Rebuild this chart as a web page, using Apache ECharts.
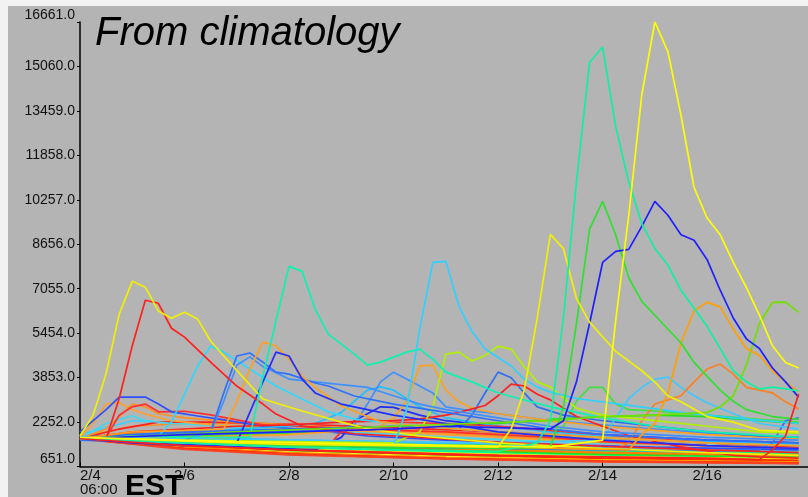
<!DOCTYPE html>
<html>
<head>
<meta charset="utf-8">
<script src="https://cdn.jsdelivr.net/npm/echarts@6/dist/echarts.min.js"></script>
<style>
html, body { margin: 0; padding: 0; background: #f2f2f2; }
#chart { width: 808px; height: 497px; }
</style>
</head>
<body>
<div id="chart"></div>
<script>
// Streamflow ensemble traces, x = days after 2/4 06:00 EST, y = flow
const yMin = 651.0, yMax = 16661.0, yStep = 1601.0;
const dateTicks = ['2/4', '2/6', '2/8', '2/10', '2/12', '2/14', '2/16'];
const startTime = '06:00';
const tzLabel = 'EST';
const titleText = 'From climatology';

// low, slowly receding members
const bandRedA    = [[0,1650],[2,1380],[4,1180],[7,1000],[10,880],[13.75,800]];
const bandRedB    = [[0,1650],[2,1420],[4,1250],[7,1080],[10,950],[13.75,860]];
const bandRedC    = [[0,1650],[2,1300],[4,1100],[7,940],[10,840],[13.75,770]];
const bandRedD    = [[0,1650],[2,1280],[4,1080],[7,930],[10,830],[13.75,760]];
const bandOrangeA = [[0,1650],[2,1340],[4,1130],[7,960],[10,850],[13.75,780]];
const bandOrangeB = [[0,1650],[2,1450],[4,1300],[7,1150],[10,1020],[13.75,920]];
const bandOrangeC = [[0,1650],[2,1320],[4,1120],[7,970],[10,870],[13.75,800]];
const bandOrangeD = [[0,1650],[1,1850],[1.5,1820],[2,1700],[4,1500],[7,1300],[10,1150],[13.75,1050]];
const bandYellowA = [[0,1650],[2,1500],[4,1350],[7,1180],[10,1050],[13.75,950]];
const bandYellowB = [[0,1650],[2,1360],[4,1160],[7,1000],[10,900],[13.75,840]];
const bandYellowC = [[0,1650],[2,1430],[4,1280],[7,1100],[10,980],[13.75,900]];
const bandLimeA   = [[0,1650],[2,1550],[4,1400],[7,1250],[10,1100],[13.75,1000]];
const bandGreenA  = [[0,1650],[2,1600],[4,1480],[7,1320],[10,1180],[13.75,1080]];
const bandGreenB  = [[0,1650],[2,1400],[4,1220],[7,1050],[10,930],[13.75,850]];
const bandGreenC  = [[0,1650],[1,1750],[2,1750],[4,1450],[7,1250],[10,1100],[13.75,1000]];
const bandSpringA = [[0,1650],[2,1480],[4,1330],[7,1200],[10,1080],[13.75,1000]];
const bandSpringB = [[0,1700],[2,1580],[4,1500],[7,1380],[10,1250],[13.75,1150]];
const bandCyanA   = [[0,1650],[2,1530],[4,1420],[7,1300],[10,1150],[13.75,1050]];
const bandCyanB   = [[0,1750],[2,1700],[4,1600],[7,1480],[10,1350],[13.75,1250]];
const bandBlueA   = [[0,1650],[2,1560],[4,1450],[7,1280],[10,1130],[13.75,1030]];

// middle members
const midRedA    = [[0,1650],[0.75,2000],[1.5,2250],[2.5,2250],[3.5,2200],[4.5,2150],[6,2050],[8,1900],[10,1700],[12,1500],[13.75,1400]];
const midRedB    = [[0,1650],[0.5,1700],[0.75,2500],[1,2800],[1.25,2900],[1.5,2620],[2,2640],[2.5,2510],[3,2330],[3.5,2150],[4,2100],[4.5,2080],[5.25,2000],[6,1950],[7,1900],[8,1800],[9,1700],[10,1550],[12,1400],[13.75,1300]];
const midRedC    = [[0,1650],[2,1500],[4,1350],[4.5,1300],[4.75,1400],[5,1900],[5.25,2300],[5.5,2350],[6,2250],[7,2200],[8,2100],[9,1950],[10,1800],[11,1650],[12,1500],[13.75,1350]];
const midOrangeA = [[0,1700],[0.25,2200],[0.5,2900],[0.75,2950],[1,2700],[1.25,2540],[1.75,2300],[2.5,2150],[3.5,2050],[5,1950],[7,1800],[9,1600],[11,1450],[13.75,1300]];
const midOrangeB = [[0,1650],[0.5,2000],[1,2900],[1.25,2800],[1.5,2550],[2,2400],[3,2250],[4,2150],[5,2050],[6,1950],[8,1750],[10,1550],[12,1400],[13.75,1300]];
const midOrangeC = [[0,1700],[1,2100],[2,2200],[3,2200],[4,2100],[5.5,2000],[7,1900],[9,1750],[11,1600],[13.75,1500]];
const midCyanA   = [[0,1650],[0.5,2200],[1,2480],[1.25,2300],[1.75,2200],[2.5,2150],[3.5,2050],[4.5,1950],[5.5,1850],[7,1700],[9,1550],[11,1450],[13.75,1350]];
const midCyanB   = [[0,1800],[1,2300],[2,2200],[3,2050],[4,1950],[6,1850],[8,1750],[10,1650],[12,1550],[13.75,1500]];
const midCyanC   = [[0,1700],[2,1900],[3,2000],[4,2100],[4.5,2200],[5,2600],[5.5,3400],[5.75,3520],[6,3400],[6.5,2800],[7,2400],[8,2100],[9,1900],[10,1750],[12,1550],[13.75,1450]];
const midBlueA   = [[0,1900],[0.5,2700],[0.75,3150],[1.25,3150],[1.5,2900],[1.75,2620],[2.25,2470],[2.75,2330],[3.5,2100],[4.5,1950],[5.5,1750],[7,1600],[9,1450],[11,1350],[13.75,1250]];
const midBlueB   = [[0,1650],[2,1450],[4,1300],[4.5,1250],[5,1700],[5.25,2300],[5.75,2800],[6,2780],[6.5,2500],[7,2300],[8,2100],[9,1950],[10,1800],[12,1600],[13.75,1500]];
const midBlueC   = [[0,1600],[4,1400],[8,1300],[10,1250],[12,1200],[13,1250],[13.25,1500],[13.5,2300],[13.75,2400]];
const midGreenA  = [[0,1650],[3,1800],[6,2000],[8,2200],[9,2350],[10,2450],[11,2500],[12,2450],[13,2300],[13.75,2200]];
const midGreenB  = [[0,1650],[4,1500],[8,1400],[9,1600],[9.25,2100],[9.5,3000],[9.75,3500],[10,3500],[10.25,2900],[10.5,2700],[11,2650],[12,2500],[13,2350],[13.75,2250]];

// storm-driven members
const yellowEarly = [[0,1750],[0.25,2500],[0.5,4000],[0.75,6140],[1,7320],[1.25,7110],[1.5,6250],[1.75,5990],[2,6210],[2.25,5960],[2.5,5170],[2.75,4630],[3.5,3080],[4.25,2650],[5,2250],[5.5,2010],[6.5,1750],[8,1500],[10,1300],[12,1150],[13.75,1050]];
const redEarly    = [[0,1650],[0.5,1650],[0.75,3100],[1,5000],[1.25,6640],[1.5,6530],[1.75,5630],[2,5310],[2.5,4410],[3,3550],[3.5,2900],[3.75,2540],[4.25,2110],[5.25,1830],[6.5,1700],[8,1520],[10,1380],[12,1250],[13.75,1150]];
const cyanFeb6    = [[0,1650],[1,1700],[1.5,1750],[1.75,2250],[2.25,4270],[2.5,4990],[2.75,4770],[3.25,4160],[3.75,3550],[4.25,3080],[4.75,2620],[5.25,2360],[6.5,2100],[8,1900],[10,1700],[12,1500],[13.75,1400]];
const blueFeb7A   = [[0,1650],[1.5,1800],[2.5,1900],[2.75,3300],[3,4630],[3.25,4740],[3.5,4410],[3.75,4050],[4,3980],[4.5,3660],[4.75,3550],[5.25,3190],[6,2900],[7,2600],[8,2300],[9,2000],[10,1800],[12,1600],[13.75,1500]];
const blueFeb7B   = [[0,1700],[2,1600],[2.5,1900],[2.75,3000],[3,4300],[3.25,4600],[3.5,4250],[4,3800],[4.5,3700],[5,3600],[5.5,3500],[6,3200],[6.5,2900],[7,2700],[8,2400],[9,2100],[10,1900],[12,1700],[13.75,1600]];
const orangeFeb8  = [[0,1650],[1,1900],[2,1950],[2.75,2000],[3,2975],[3.25,4160],[3.5,5130],[3.75,4990],[4,4520],[4.25,3910],[4.5,3500],[5,2830],[5.75,2260],[6.5,2100],[8,1900],[10,1700],[12,1500],[13.75,1400]];
const blueFeb8    = [[0,1650],[1,1500],[2,1400],[3,1500],[3.25,2600],[3.5,3700],[3.75,4770],[4,4630],[4.25,3800],[4.5,3300],[5,2900],[6,2500],[7,2200],[8,1900],[10,1600],[12,1400],[13.75,1300]];
const tealFeb8    = [[0,1650],[1,1750],[2,1700],[3.25,1700],[3.5,3900],[3.75,5900],[4,7860],[4.25,7680],[4.5,6320],[4.75,5420],[5.25,4700],[5.5,4300],[5.75,4410],[6.25,4770],[6.5,4880],[6.75,4520],[7,4050],[7.5,3700],[8,3300],[9,2800],[10,2400],[11,2100],[12,1900],[13.75,1700]];
const blueFeb10   = [[0,1700],[2,1800],[4,1900],[5,2000],[5.25,2150],[5.5,2900],[5.75,3700],[6,4050],[6.25,3800],[6.5,3550],[6.75,3300],[7,2800],[7.5,2650],[8,2550],[9,2300],[10,2150],[11,2000],[12,1850],[13.75,1700]];
const orangeFeb10 = [[0,1650],[2,1700],[4,1800],[5.5,2000],[5.75,2100],[6,2400],[6.25,3000],[6.5,4270],[6.75,4300],[7,3400],[7.25,2980],[7.5,2750],[8,2550],[9,2300],[10,2100],[11,1950],[12,1800],[13.75,1650]];
const cyanFeb11   = [[0,1650],[2,1500],[4,1350],[6,1400],[6.25,2700],[6.5,5600],[6.75,8000],[7,8040],[7.25,6420],[7.5,5520],[7.75,4880],[8.25,4270],[8.5,3800],[8.75,3510],[9,3330],[9.5,3100],[10.5,2850],[11.5,2600],[12.5,2400],[13.75,2200]];
const limeFeb11   = [[0,1650],[2,1600],[4,1550],[6,1500],[6.5,1900],[6.75,2800],[7,4700],[7.25,4770],[7.5,4450],[7.75,4650],[8,4980],[8.25,4880],[8.5,4250],[8.75,3700],[9,3510],[9.5,2750],[10,2500],[11,2300],[12,2100],[13,1900],[13.75,1850]];
const blueFeb12   = [[0,1700],[2,1900],[4,2000],[6,2100],[7,2050],[7.25,2000],[7.5,2500],[7.75,3300],[8,4050],[8.25,3850],[8.5,3300],[8.75,2800],[9.25,2500],[10,2300],[11,2100],[12,1900],[13,1750],[13.75,1700]];
const redFeb12    = [[0,1650],[1,1900],[2,2000],[3,2100],[4,2150],[5,2250],[6,2300],[6.5,2360],[7,2500],[7.25,2600],[7.75,2850],[8,3200],[8.25,3620],[8.5,3550],[8.75,3250],[9,3050],[9.5,2450],[10,2100],[10.5,1760],[11,1550],[11.5,1360],[12,1200],[12.5,1050],[13,1000],[13.75,950]];
const redLate     = [[0,1650],[2,1400],[4,1250],[6,1150],[8,1050],[10,1000],[12,950],[13,900],[13.25,1250],[13.5,1750],[13.75,3260]];
const yellowFeb13 = [[0,1650],[2,1550],[4,1450],[6,1400],[8,1350],[8.25,2000],[8.5,3400],[8.75,6000],[9,9010],[9.25,8500],[9.5,6700],[9.75,5850],[10.25,4800],[10.75,4100],[11,3690],[11.25,3190],[11.5,2980],[12,2450],[12.5,2250],[13,1950],[13.75,1900]];
const springFeb14 = [[0,1650],[2,1500],[4,1350],[6,1250],[8,1200],[8.75,1500],[9,2300],[9.25,6000],[9.5,10900],[9.75,15200],[10,15760],[10.25,12900],[10.5,10900],[10.75,9400],[11,8500],[11.25,7900],[11.5,7000],[12,5700],[12.5,4100],[12.75,3700],[13,3440],[13.25,3510],[13.5,3450],[13.75,3370]];
const greenFeb14  = [[0,1650],[4,1400],[8,1300],[9,1350],[9.25,2800],[9.5,5800],[9.75,9200],[10,10200],[10.25,9000],[10.5,7450],[10.75,6600],[11,6100],[11.5,5100],[11.75,4400],[12,3900],[12.25,3400],[12.5,3000],[12.75,2700],[13.25,2450],[13.75,2350]];
const blueFeb15   = [[0,1650],[2,1800],[4,1900],[6,2000],[7,2100],[8,2050],[9,2000],[9.25,2300],[9.5,3700],[9.75,5800],[10,8000],[10.25,8400],[10.5,8470],[10.75,9300],[11,10200],[11.25,9700],[11.5,9000],[11.75,8800],[12,8100],[12.25,7000],[12.5,6000],[12.75,5250],[13,4900],[13.25,4200],[13.5,3700],[13.75,3150]];
const yellowFeb15 = [[0,1700],[3,1550],[6,1450],[9,1350],[10,1600],[10.25,5900],[10.5,9700],[10.75,14040],[11,16661],[11.25,15583],[11.5,13300],[11.75,10700],[12,9600],[12.25,9000],[12.5,8000],[12.75,7100],[13,6100],[13.25,5000],[13.5,4400],[13.75,4200]];
const cyanFeb15   = [[0,1700],[4,1600],[8,1500],[10,1600],[10.25,2400],[10.5,3100],[10.75,3500],[11,3800],[11.25,3870],[11.5,3500],[11.75,3200],[12,2950],[12.5,2550],[13,2200],[13.75,2000]];
const orangeFeb16 = [[0,1650],[3,1500],[6,1400],[9,1300],[10.5,1250],[10.75,1800],[11,2200],[11.25,3300],[11.5,5100],[11.75,6250],[12,6570],[12.25,6390],[12.5,5600],[12.75,4900],[13,4650],[13.25,4100],[13.5,3700],[13.75,3330]];
const orangeFeb16b= [[0,1650],[4,1500],[8,1350],[10,1300],[10.25,1300],[10.5,1500],[10.75,2300],[11,2900],[11.5,3200],[11.75,3700],[12,4160],[12.25,4340],[12.5,3980],[12.75,3500],[13.25,3300],[13.5,2980],[13.75,2720]];
const limeFeb17   = [[0,1650],[3,1900],[6,2100],[9,2300],[10,2450],[11,2500],[12,2600],[12.25,2800],[12.5,3200],[12.75,4300],[13,5800],[13.25,6560],[13.5,6570],[13.75,6200]];

const bandMembers = [
  [bandRedA, '#ff2000'], [bandOrangeB, '#ff9900'], [bandYellowA, '#ffee00'], [bandLimeA, '#b0ff00'],
  [bandGreenA, '#30f030'], [bandSpringA, '#00ffa0'], [bandCyanA, '#00e0ff'], [bandBlueA, '#2050ff'],
  [bandCyanB, '#30c0ff'], [bandSpringB, '#00f0a0'], [bandGreenC, '#20e020'], [bandOrangeD, '#ff8000'],
  [bandYellowC, '#e8e800'], [bandGreenB, '#00ff40'], [bandYellowB, '#ffff20'], [bandRedB, '#ff3000'],
  [bandOrangeA, '#ff6000'], [bandOrangeC, '#ffa000'], [bandRedC, '#ff2000'], [bandRedD, '#ff4020']
];
const otherMembers = [
  [midGreenA, '#20e020'], [midGreenB, '#40e040'], [midCyanB, '#40d0ff'], [midOrangeC, '#ff9020'],
  [midRedA, '#ff2020'], [midCyanA, '#40d8f0'], [midOrangeA, '#ffa030'], [midOrangeB, '#ff9020'],
  [midRedB, '#ff3030'], [midBlueA, '#3050ff'], [midBlueB, '#2030f0'], [midCyanC, '#20c0ff'],
  [midRedC, '#ff3030'], [midBlueC, '#3070ff'],
  [blueFeb10, '#4090ff'], [orangeFeb10, '#ffa020'], [blueFeb12, '#3070f0'], [redFeb12, '#ff2020'],
  [cyanFeb15, '#40c8ff'], [orangeFeb16b, '#ff8020'], [limeFeb11, '#b0f000'], [cyanFeb6, '#30d8ff'],
  [blueFeb7B, '#4090ff'], [blueFeb7A, '#3070ff'], [orangeFeb8, '#ffa020'], [blueFeb8, '#2030ff'],
  [redEarly, '#ff2020'], [yellowEarly, '#f0f000'], [tealFeb8, '#10f0b0'], [cyanFeb11, '#30d0ff'],
  [limeFeb17, '#70e000'], [orangeFeb16, '#ffa000'], [greenFeb14, '#30e030'], [blueFeb15, '#2020ff'],
  [yellowFeb13, '#f0f000'], [springFeb14, '#10f0a0'], [yellowFeb15, '#ffff00'], [redLate, '#ff2020']
];

const chart = echarts.init(document.getElementById('chart'), null, { renderer: 'canvas' });
const font = 'Liberation Sans';

const toSeries = (width) => ([data, color]) => ({
  type: 'line', data, symbol: 'none', silent: true, z: 2,
  lineStyle: { color, width }
});

chart.setOption({
  animation: false,
  backgroundColor: '#f2f2f2',
  graphic: [
    { type: 'rect', z: -10, shape: { x: 8, y: 6, width: 800, height: 491 }, style: { fill: '#b4b4b4' } },
    { type: 'text', z: 100, left: 95, top: 14,
      style: { text: titleText, font: 'italic 40px "' + font + '"', fill: '#000' } },
    { type: 'text', z: 100, left: 125, top: 472,
      style: { text: tzLabel, font: 'bold 30px "' + font + '"', fill: '#000' } }
  ],
  grid: { left: 80, right: 0, top: 22, bottom: 29.3 },
  xAxis: {
    type: 'value', min: 0, max: 13.93, interval: 2,
    axisLine: { lineStyle: { color: '#000', width: 1.5 } },
    axisTick: { inside: true, length: 4, lineStyle: { color: '#000' } },
    splitLine: { show: false },
    axisLabel: {
      color: '#111', fontFamily: font, fontSize: 15, margin: 2, lineHeight: 14,
      alignMinLabel: 'left', showMaxLabel: false,
      formatter: v => {
        const i = Math.round(v / 2);
        if (i >= dateTicks.length) return '';
        return i === 0 ? dateTicks[0] + '\n' + startTime : dateTicks[i];
      }
    }
  },
  yAxis: {
    type: 'value', min: yMin, max: yMax, interval: yStep,
    axisLine: { show: true, lineStyle: { color: '#000', width: 1.5 } },
    axisTick: { show: true, length: 3, lineStyle: { color: '#000' } },
    splitLine: { show: false },
    axisLabel: {
      color: '#111', fontFamily: font, fontSize: 14, margin: 5,
      verticalAlignMinLabel: 'bottom', verticalAlignMaxLabel: 'bottom',
      formatter: v => v.toFixed(1)
    }
  },
  series: bandMembers.map(toSeries(2.2)).concat(otherMembers.map(toSeries(1.7)))
});
</script>
</body>
</html>
